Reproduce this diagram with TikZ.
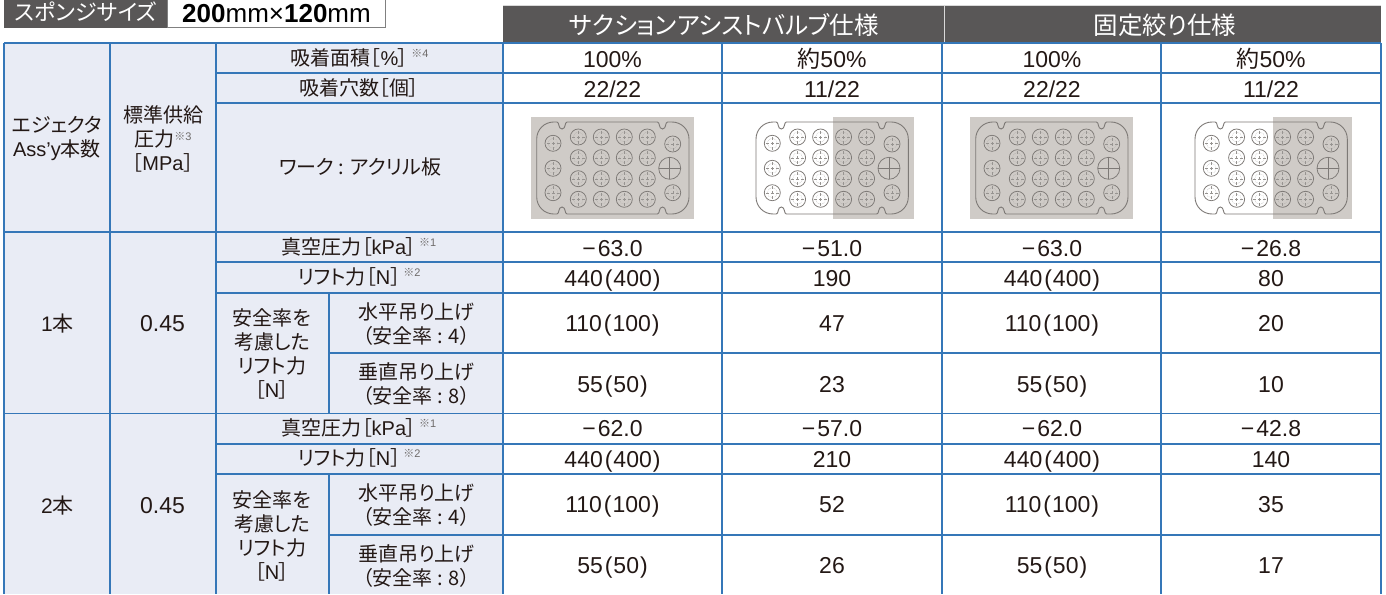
\documentclass[tikz,border=0pt]{standalone}
\usepackage{fontspec}
\setmainfont{Liberation Sans}
\newfontfamily\cjk[RawFeature={+palt}]{Noto Sans CJK JP}
\newcommand{\J}[1]{{\cjk #1}}
\newcommand{\LB}{{\cjk ［}}
\newcommand{\RB}{{\cjk ］}}
\newcommand{\Nt}[1]{\hspace{3pt}\raisebox{8pt}{\fontsize{11}{11}\selectfont\color{notegray}\J{※}#1}}
\newcommand{\Mn}{−\hspace{2pt}}
\newcommand{\Pa}[1]{\hspace{2pt}(\hspace{1pt}#1\hspace{1pt})}
\definecolor{notegray}{HTML}{6E6B6A}
\definecolor{ink}{HTML}{231815}
\definecolor{headdark}{HTML}{595757}
\definecolor{labelbg}{HTML}{E9ECF5}
\definecolor{gridblue}{HTML}{3577B8}
\definecolor{platebg}{HTML}{CFCBC7}
\definecolor{plateline}{HTML}{7D7976}
\tikzset{
  x=1pt,y=-1pt,
  txt/.style={inner sep=0pt,outer sep=0pt,text=ink,font=\fontsize{20}{24}\selectfont,align=center},
  lab/.style={txt,text height=15pt,text depth=2pt},
  val/.style={txt,font=\fontsize{23}{26}\selectfont,text height=16.5pt,text depth=0pt},
  headtxt/.style={inner sep=0pt,text=white,font=\fontsize{24.5}{26}\selectfont},
  gridline/.style={draw=gridblue,line width=1.2pt},
  holeline/.style={draw=plateline,line width=.75pt},
  holefine/.style={draw=plateline!70,line width=.4pt,densely dotted}
}
\newcommand{\hole}[2]{%
  \draw[holeline] (#1,#2) circle[radius=8];
  \draw[holefine] (#1,#2) circle[radius=5];
  \draw[draw=plateline!80,line width=.4pt,densely dashed] (#1-6.5,#2) -- (#1+6.5,#2) (#1,#2-6.5) -- (#1,#2+6.5);
}
\newcommand{\plate}[4]{%
  \begin{scope}[shift={(#1,#2)}]
    \fill[platebg] (#3,0) rectangle (#4,102);
    \draw[holeline,line width=.9pt]
      (22.7,5) -- (26,5) .. controls (28.5,5) and (27,12) .. (31,12)
      .. controls (35,12) and (33.5,5) .. (36,5) -- (126.5,5)
      .. controls (129,5) and (127.5,12) .. (131.5,12)
      .. controls (135.5,12) and (134,5) .. (136.5,5) -- (141,5)
      .. controls (150.4,5) and (158,12.6) .. (158,22) -- (158,80)
      .. controls (158,89.4) and (150.4,97) .. (141,97) -- (136.5,97)
      .. controls (134,97) and (135.5,90) .. (131.5,90)
      .. controls (127.5,90) and (129,97) .. (126.5,97) -- (36,97)
      .. controls (33.5,97) and (35,90) .. (31,90)
      .. controls (27,90) and (28.5,97) .. (26,97) -- (22.7,97)
      .. controls (13.3,97) and (5.7,89.4) .. (5.7,80) -- (5.7,22)
      .. controls (5.7,12.6) and (13.3,5) .. (22.7,5) -- cycle;
    \foreach \yy in {26.3,51.3,75.7} {\hole{22}{\yy}}
    \foreach \xx in {47.3,70.3,93.3,116.3} \foreach \yy in {20,40.7,61.7,82.3} {\hole{\xx}{\yy}}
    \hole{141.7}{27}
    \hole{141.7}{75.7}
    \draw[holeline] (138.7,51.3) circle[radius=11];
    \draw[holeline] (127.7,51.3) -- (149.7,51.3) (138.7,40.3) -- (138.7,62.3);
  \end{scope}
}
\newcommand{\vrow}[6]{%
  \node[val] (#1a) at (612.5,#2) {#3};
  \node[val] (#1b) at (832,#2) {#4};
  \node[val] (#1c) at (1052,#2) {#5};
  \node[val] (#1d) at (1271,#2) {#6};
}
\begin{document}
\begin{tikzpicture}
\useasboundingbox (0,0) rectangle (1386,594);
\fill[white] (0,0) rectangle (1386,594);
% top-left tag
\fill[headdark] (4,-2) rectangle (167,28);
\draw[draw=gray,line width=.8pt,fill=white] (167,-2) rectangle (385,27);
\node[inner sep=0pt,text=white,font=\fontsize{22}{24}\selectfont] (tag) at (86,12) {\J{スポンジサイズ}};
\node[inner sep=0pt,text=black,font=\fontsize{26}{28}\selectfont,text height=18pt,text depth=0pt] (size) at (276.5,13.5) {\textbf{200}mm×\textbf{120}mm};
% header
\fill[headdark] (503,5) rectangle (1381,43);
\draw[draw=white!70!gray,line width=.8pt] (503,5) -- (1381,5) (944,5) -- (944,43);
\node[headtxt] (hA) at (724,25) {\J{サクションアシストバルブ仕様}};
\node[headtxt] (hB) at (1165,25) {\J{固定絞り仕様}};
% label background
\fill[labelbg] (4,43) rectangle (503,594);
% plates
\plate{531}{117}{0}{163}
\plate{750.3}{117}{83}{164}
\plate{970}{117}{0}{163}
\plate{1189.3}{117}{84}{162.5}
% grid
\draw[gridline] (4,43) -- (1381,43);
\draw[gridline] (216,73) -- (1381,73);
\draw[gridline] (216,103) -- (1381,103);
\draw[gridline] (4,232) -- (1381,232);
\draw[gridline] (216,262) -- (1381,262);
\draw[gridline] (216,293) -- (1381,293);
\draw[gridline] (329,353) -- (1381,353);
\draw[gridline] (4,413.5) -- (1381,413.5);
\draw[gridline] (216,444) -- (1381,444);
\draw[gridline] (216,474) -- (1381,474);
\draw[gridline] (329,535) -- (1381,535);
\foreach \xx in {4,110,216,503,722,942,1161,1381} {\draw[gridline] (\xx,43) -- (\xx,594);}
\draw[gridline] (329,293) -- (329,413.5);
\draw[gridline] (329,474) -- (329,594);
% left labels
\node[txt] (ej) at (57,138) {\J{エジェクタ}\\Ass'y\J{本数}};
\node[txt] (sp) at (163,139) {\J{標準供給}\\\J{圧力}\raisebox{6pt}{\fontsize{11}{11}\selectfont\color{notegray}\J{※}3}\\\LB{}MPa\RB};
\node[lab] (r1) at (359.5,59) {\J{吸着面積}\LB\%\RB\Nt{4}};
\node[lab] (r2) at (359,89) {\J{吸着穴数}\LB\J{個}\RB};
\node[lab] (r3) at (360,168) {\J{ワーク : アクリル板}};
% group 1
\node[val,font=\fontsize{21}{24}\selectfont] (n1) at (57.5,323) {1\J{本}};
\node[val] (p1) at (162.5,323) {0.45};
\node[lab] (m1) at (359,248) {\J{真空圧力}\LB{}kPa\RB\Nt{1}};
\node[lab] (l1) at (359,278) {\J{リフト力}\LB{}N\RB\Nt{2}};
\node[txt] (f1) at (272,354) {\J{安全率を}\\\J{考慮した}\\\J{リフト力}\\\LB{}N\RB};
\node[txt] (h1) at (416.5,324.5) {\J{水平吊り上げ}\\\J{（安全率 : 4）}};
\node[txt] (w1) at (416.5,384) {\J{垂直吊り上げ}\\\J{（安全率 : 8）}};
\vrow{a}{248}{\Mn63.0}{\Mn51.0}{\Mn63.0}{\Mn26.8}
\vrow{b}{278}{440\Pa{400}}{190}{440\Pa{400}}{80}
\vrow{c}{323}{110\Pa{100}}{47}{110\Pa{100}}{20}
\vrow{d}{384}{55\Pa{50}}{23}{55\Pa{50}}{10}
% group 2
\node[val,font=\fontsize{21}{24}\selectfont] (n2) at (57.5,505) {2\J{本}};
\node[val] (p2) at (162.5,505) {0.45};
\node[lab] (m2) at (359,428.5) {\J{真空圧力}\LB{}kPa\RB\Nt{1}};
\node[lab] (l2) at (359,459) {\J{リフト力}\LB{}N\RB\Nt{2}};
\node[txt] (f2) at (272,536) {\J{安全率を}\\\J{考慮した}\\\J{リフト力}\\\LB{}N\RB};
\node[txt] (h2) at (416.5,505) {\J{水平吊り上げ}\\\J{（安全率 : 4）}};
\node[txt] (w2) at (416.5,566) {\J{垂直吊り上げ}\\\J{（安全率 : 8）}};
\vrow{e}{428.5}{\Mn62.0}{\Mn57.0}{\Mn62.0}{\Mn42.8}
\vrow{f}{459}{440\Pa{400}}{210}{440\Pa{400}}{140}
\vrow{g}{504}{110\Pa{100}}{52}{110\Pa{100}}{35}
\vrow{h}{565}{55\Pa{50}}{26}{55\Pa{50}}{17}
% top data rows
\vrow{i}{59}{100\%}{\J{約}50\%}{100\%}{\J{約}50\%}
\vrow{j}{89.5}{22/22}{11/22}{22/22}{11/22}
\end{tikzpicture}
\end{document}
